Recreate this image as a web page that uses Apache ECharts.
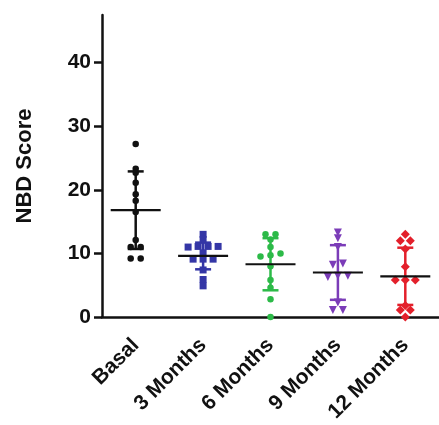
<!DOCTYPE html>
<html>
<head>
<meta charset="utf-8">
<script src="https://cdn.jsdelivr.net/npm/echarts@6/dist/echarts.min.js"></script>
<style>html,body{margin:0;padding:0;background:#fff;}#c{width:439px;height:425px;}</style>
</head>
<body>
<div id="c"></div>
<script>
const categories = ['Basal', '3 Months', '6 Months', '9 Months', '12 Months'];
const basal    = [27.2, 23.3, 22.7, 21.1, 19.3, 18.3, 16.5, 12.1, 11.0, 11.0, 9.2, 9.2];
const months3  = [13.0, 12.2, 11.1, 11.1, 11.0, 11.1, 10.1, 9.1, 9.1, 9.1, 7.4, 5.9, 4.9];
const months6  = [13.0, 13.0, 12.2, 11.0, 10.0, 9.7, 9.5, 8.0, 5.8, 4.6, 2.8, 0.0];
const months9  = [13.3, 12.4, 11.0, 8.4, 8.2, 6.5, 6.5, 6.3, 2.3, 1.1, 1.1];
const months12 = [13.0, 12.0, 12.0, 10.7, 7.9, 5.8, 5.8, 5.8, 1.8, 1.1, 1.1, 0.0];
const means = [16.8, 9.6, 8.3, 7.0, 6.4];
const sds   = [6.1, 2.1, 4.1, 4.3, 4.5];
const yTicks = [0, 10, 20, 30, 40];

const groups = [basal, months3, months6, months9, months12];
const colors = ['#111111', '#3436a6', '#2cba48', '#7b3cb8', '#e3202b'];
const symbols = ['circle', 'rect', 'circle', 'triangle', 'diamond'];
const symbolSizes = [6.5, 7, 6.5, 8, 9];
const symbolRotates = [0, 0, 0, 180, 0];

// simple beeswarm: points with close values are spread side by side
function swarm(vals, step, tol) {
  const idx = vals.map((v, i) => i).sort((a, b) => vals[a] - vals[b]);
  const off = new Array(vals.length).fill(0);
  let row = [];
  const flush = () => { row.forEach((k, j) => { off[k] = (j - (row.length - 1) / 2) * step; }); row = []; };
  idx.forEach(k => { if (row.length && vals[k] - vals[row[0]] > tol) flush(); row.push(k); });
  flush();
  return off;
}

const font = '"Liberation Sans", Arial, Helvetica, sans-serif';

const scatterSeries = groups.map((vals, gi) => {
  const off = swarm(vals, 10, 0.6);
  return {
    type: 'scatter',
    z: 3,
    symbol: symbols[gi],
    symbolSize: symbolSizes[gi],
    symbolRotate: symbolRotates[gi],
    itemStyle: { color: colors[gi], opacity: 1 },
    data: vals.map((v, i) => ({ value: [gi, v], symbolOffset: [off[i], 0] })),
    silent: true
  };
});

const statData = means.map((m, i) => [i, m, sds[i]]);

const chart = echarts.init(document.getElementById('c'), null, { renderer: 'canvas' });
chart.setOption({
  backgroundColor: '#ffffff',
  animation: false,
  grid: { left: 102, top: 15, right: 0, bottom: 108 },
  xAxis: {
    type: 'category',
    data: categories,
    boundaryGap: true,
    axisLine: { lineStyle: { color: '#111', width: 2.5 } },
    axisTick: { alignWithLabel: true, length: 8, lineStyle: { color: '#111', width: 2.5 } },
    axisLabel: { rotate: 45, margin: 25, color: '#111', fontSize: 21, fontWeight: 'bold', fontFamily: font, interval: 0 }
  },
  yAxis: {
    type: 'value',
    min: 0,
    max: 47.5,
    name: 'NBD Score',
    nameLocation: 'middle',
    nameGap: 66,
    nameRotate: 90,
    nameTextStyle: { color: '#111', fontSize: 22, fontWeight: 'bold', fontFamily: font },
    axisLine: { show: true, lineStyle: { color: '#111', width: 2.5 } },
    axisTick: { show: true, length: 8, customValues: yTicks, lineStyle: { color: '#111', width: 2.5 } },
    axisLabel: { margin: 11, color: '#111', fontSize: 21, fontWeight: 'bold', fontFamily: font, customValues: yTicks },
    splitLine: { show: false }
  },
  series: [
    {
      type: 'custom',
      z: 2,
      silent: true,
      data: statData,
      renderItem: function (params, api) {
        const i = api.value(0), m = api.value(1), s = api.value(2);
        const c = api.coord([i, m]);
        const t = api.coord([i, m + s]);
        const b = api.coord([i, m - s]);
        const col = colors[params.dataIndex];
        const cap = 8;
        return {
          type: 'group',
          children: [
            { type: 'line', shape: { x1: c[0], y1: t[1], x2: c[0], y2: b[1] }, style: { stroke: col, lineWidth: 2.5 } },
            { type: 'line', shape: { x1: c[0] - cap, y1: t[1], x2: c[0] + cap, y2: t[1] }, style: { stroke: col, lineWidth: 2.5 } },
            { type: 'line', shape: { x1: c[0] - cap, y1: b[1], x2: c[0] + cap, y2: b[1] }, style: { stroke: col, lineWidth: 2.5 } }
          ]
        };
      }
    },
    ...scatterSeries,
    {
      type: 'custom',
      z: 4,
      silent: true,
      data: statData,
      renderItem: function (params, api) {
        const i = api.value(0), m = api.value(1);
        const c = api.coord([i, m]);
        return {
          type: 'line',
          shape: { x1: c[0] - 25, y1: c[1], x2: c[0] + 25, y2: c[1] },
          style: { stroke: '#111', lineWidth: 2.2 }
        };
      }
    }
  ]
});
</script>
</body>
</html>
